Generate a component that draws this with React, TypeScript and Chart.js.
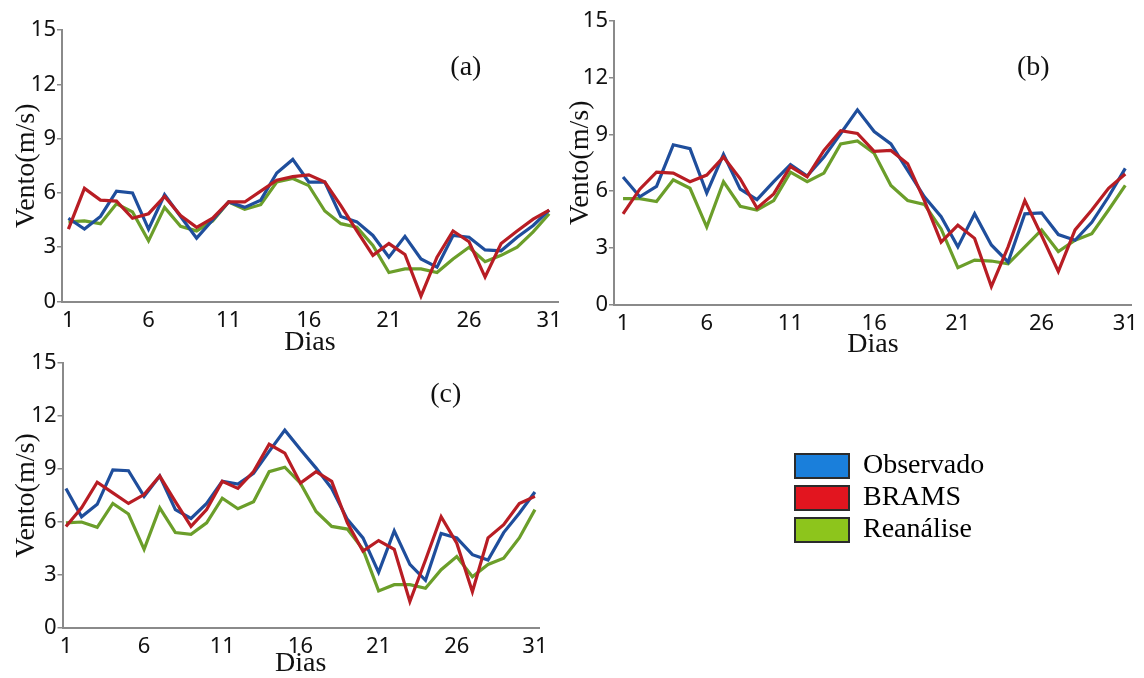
import React, { useRef, useEffect } from 'react';
import { Chart, registerables } from 'chart.js';

Chart.register(...registerables);

// dias do mês (eixo x)
const dias = [1, 2, 3, 4, 5, 6, 7, 8, 9, 10, 11, 12, 13, 14, 15, 16, 17, 18, 19, 20, 21, 22, 23, 24, 25, 26, 27, 28, 29, 30, 31];
const diaTicks = [1, 6, 11, 16, 21, 26, 31];
const ventoTicks = [0, 3, 6, 9, 12, 15];

const seriesNames = ['Observado', 'BRAMS', 'Reanálise'];
const lineColors = ['#1f4e9c', '#b81d24', '#6b9e2a'];
const boxColors = ['#1a7fdb', '#e2151f', '#8dc51c'];

// (a)
const observadoA = [4.6, 4.0, 4.7, 6.1, 6.0, 4.0, 5.9, 4.7, 3.5, 4.5, 5.5, 5.2, 5.6, 7.1, 7.85, 6.6, 6.6, 4.7, 4.4, 3.65, 2.45, 3.6, 2.35, 1.9, 3.65, 3.55, 2.85, 2.8, 3.55, 4.2, 5.05];
const bramsA = [4.0, 6.25, 5.6, 5.55, 4.6, 4.85, 5.8, 4.75, 4.1, 4.6, 5.5, 5.5, 6.1, 6.7, 6.9, 7.0, 6.6, 5.3, 3.9, 2.55, 3.2, 2.6, 0.3, 2.45, 3.9, 3.3, 1.35, 3.2, 3.9, 4.55, 5.05];
const reanaliseA = [4.4, 4.45, 4.3, 5.4, 4.95, 3.35, 5.2, 4.15, 3.9, 4.45, 5.5, 5.1, 5.35, 6.6, 6.8, 6.4, 5.0, 4.3, 4.1, 3.1, 1.6, 1.8, 1.8, 1.6, 2.35, 3.0, 2.2, 2.55, 3.0, 3.85, 4.85];

// (b)
const observadoB = [6.75, 5.7, 6.25, 8.45, 8.25, 5.9, 7.95, 6.1, 5.55, 6.5, 7.4, 6.8, 7.8, 9.05, 10.3, 9.15, 8.5, 7.1, 5.7, 4.65, 3.05, 4.8, 3.15, 2.25, 4.8, 4.85, 3.7, 3.4, 4.35, 5.7, 7.2];
const bramsB = [4.8, 6.1, 7.0, 6.95, 6.5, 6.85, 7.8, 6.65, 5.1, 5.85, 7.3, 6.75, 8.15, 9.2, 9.05, 8.1, 8.15, 7.45, 5.5, 3.3, 4.2, 3.5, 0.95, 3.05, 5.5, 3.65, 1.75, 3.95, 5.0, 6.15, 6.9];
const reanaliseB = [5.6, 5.6, 5.45, 6.6, 6.15, 4.1, 6.5, 5.2, 5.0, 5.5, 7.0, 6.5, 6.95, 8.5, 8.65, 8.0, 6.3, 5.5, 5.3, 4.0, 1.95, 2.35, 2.3, 2.15, 3.05, 3.95, 2.8, 3.4, 3.75, 5.0, 6.3];

// (c)
const observadoC = [7.9, 6.3, 7.0, 8.95, 8.9, 7.45, 8.6, 6.7, 6.2, 7.05, 8.3, 8.15, 8.75, 10.0, 11.2, 10.1, 9.05, 7.9, 6.15, 5.1, 3.15, 5.5, 3.6, 2.7, 5.35, 5.1, 4.15, 3.85, 5.4, 6.5, 7.7];
const bramsC = [5.75, 6.8, 8.25, 7.65, 7.05, 7.55, 8.6, 7.15, 5.75, 6.7, 8.3, 7.9, 8.85, 10.4, 9.9, 8.2, 8.85, 8.3, 5.95, 4.35, 4.95, 4.45, 1.5, 3.85, 6.3, 4.8, 2.05, 5.1, 5.85, 7.05, 7.45];
const reanaliseC = [5.95, 6.0, 5.7, 7.05, 6.45, 4.45, 6.8, 5.4, 5.3, 5.95, 7.35, 6.75, 7.15, 8.85, 9.1, 8.2, 6.6, 5.75, 5.6, 4.45, 2.1, 2.45, 2.45, 2.25, 3.3, 4.05, 2.9, 3.6, 3.95, 5.1, 6.7];

const serif = "'Liberation Serif', 'Times New Roman', serif";
const sans = "'Noto Sans', sans-serif";
const axisGray = '#8a8a8a';

const panelLabel = {
    id: 'panelLabel',
    afterDatasetsDraw(chart: any, _args: any, opts: any) {
        const { ctx } = chart;
        const x = chart.scales.x;
        const y = chart.scales.y;
        ctx.save();
        ctx.font = `28px ${serif}`;
        ctx.fillStyle = '#111';
        ctx.textAlign = 'center';
        ctx.textBaseline = 'middle';
        ctx.fillText(opts.text, x.getPixelForValue(opts.at[0]), y.getPixelForValue(opts.at[1]));
        ctx.restore();
    }
};

interface PanelProps {
    left: number;
    top: number;
    width: number;
    height: number;
    area: { left: number; top: number; right: number; bottom: number };
    xMin: number;
    xMax: number;
    yTitlePad: number;
    xTitlePad: number;
    label: string;
    labelAt: number[];
    series: number[][];
}

const Panel: React.FC<PanelProps> = ({ left, top, width, height, area, xMin, xMax, yTitlePad, xTitlePad, label, labelAt, series }) => {
    const ref = useRef<HTMLCanvasElement>(null);

    useEffect(() => {
        let chart: Chart | undefined;
        if (ref.current) {
            const drawOrder = [1, 0, 2]; // BRAMS por cima, Reanálise por baixo
            chart = new Chart(ref.current, {
                type: 'line',
                data: {
                    datasets: series.map((vals, i) => ({
                        label: seriesNames[i],
                        data: vals.map((v, j) => ({ x: dias[j], y: v })),
                        borderColor: lineColors[i],
                        backgroundColor: lineColors[i],
                        borderWidth: 3.2,
                        pointRadius: 0,
                        tension: 0,
                        fill: false,
                        order: drawOrder[i]
                    }))
                },
                options: {
                    animation: false,
                    responsive: false,
                    events: [],
                    layout: {
                        padding: { left: 0, top: area.top, right: width - area.right, bottom: 0 }
                    },
                    scales: {
                        x: {
                            type: 'linear',
                            min: xMin,
                            max: xMax,
                            afterFit: (s: any) => { s.height = height - area.bottom; },
                            afterBuildTicks: (s: any) => { s.ticks = diaTicks.map(v => ({ value: v })); },
                            ticks: { font: { family: sans, size: 22 }, color: '#111', padding: 6, maxRotation: 0, autoSkip: false },
                            grid: { display: false, drawTicks: false },
                            border: { color: axisGray, width: 2 },
                            title: {
                                display: true,
                                text: 'Dias',
                                color: '#111',
                                font: { family: serif, size: 28, lineHeight: 1 },
                                padding: { top: 0, bottom: xTitlePad }
                            }
                        },
                        y: {
                            min: 0,
                            max: 15,
                            afterFit: (s: any) => { s.width = area.left; },
                            afterBuildTicks: (s: any) => { s.ticks = ventoTicks.map(v => ({ value: v })); },
                            ticks: { font: { family: sans, size: 22 }, color: '#111', padding: 1 },
                            grid: { drawOnChartArea: false, drawTicks: true, tickLength: 5, color: axisGray, lineWidth: 1.5 },
                            border: { color: axisGray, width: 2 },
                            title: {
                                display: true,
                                text: 'Vento(m/s)',
                                color: '#111',
                                font: { family: serif, size: 28, lineHeight: 1 },
                                padding: { top: yTitlePad, bottom: 0 }
                            }
                        }
                    },
                    plugins: {
                        legend: { display: false },
                        tooltip: { enabled: false },
                        panelLabel: { text: label, at: labelAt }
                    } as any
                },
                plugins: [panelLabel]
            });
        }
        return () => {
            if (chart) chart.destroy();
        };
    }, []);

    return <canvas ref={ref} width={width} height={height} style={{ position: 'absolute', left, top }} />;
};

const Legenda: React.FC<{ left: number; top: number; width: number; height: number }> = ({ left, top, width, height }) => {
    const ref = useRef<HTMLCanvasElement>(null);

    useEffect(() => {
        let chart: Chart | undefined;
        if (ref.current) {
            chart = new Chart(ref.current, {
                type: 'line',
                data: { datasets: seriesNames.map(name => ({ label: name, data: [] })) },
                options: {
                    animation: false,
                    responsive: false,
                    events: [],
                    layout: { padding: 0 },
                    scales: { x: { display: false }, y: { display: false } },
                    plugins: {
                        tooltip: { enabled: false },
                        legend: {
                            position: 'left',
                            align: 'start',
                            maxWidth: 400,
                            labels: {
                                boxWidth: 54,
                                boxHeight: 24,
                                padding: 4,
                                color: '#111',
                                font: { family: serif, size: 28 },
                                generateLabels: () => seriesNames.map((text, i) => ({
                                    text,
                                    fillStyle: boxColors[i],
                                    strokeStyle: '#2b2b2b',
                                    lineWidth: 2,
                                    hidden: false,
                                    datasetIndex: i
                                }))
                            }
                        }
                    }
                }
            });
        }
        return () => {
            if (chart) chart.destroy();
        };
    }, []);

    return <canvas ref={ref} width={width} height={height} style={{ position: 'absolute', left, top }} />;
};

export default function App() {
    return (
        <div style={{ position: 'fixed', left: 0, top: 0, width: 1144, height: 678, background: '#fff', overflow: 'hidden' }}>
            <Panel
                left={0} top={0} width={570} height={358}
                area={{ left: 62, top: 30, right: 558, bottom: 301.5 }}
                xMin={0.6} xMax={31.55}
                yTitlePad={13} xTitlePad={1}
                label="(a)" labelAt={[25.8, 12.9]}
                series={[observadoA, bramsA, reanaliseA]}
            />
            <Panel
                left={560} top={0} width={584} height={362}
                area={{ left: 54, top: 21, right: 574, bottom: 304.5 }}
                xMin={0.46} xMax={31.4}
                yTitlePad={7} xTitlePad={3}
                label="(b)" labelAt={[25.5, 12.55]}
                series={[observadoB, bramsB, reanaliseB]}
            />
            <Panel
                left={0} top={340} width={560} height={338}
                area={{ left: 62.5, top: 23, right: 539, bottom: 288 }}
                xMin={0.78} xMax={31.26}
                yTitlePad={13} xTitlePad={0}
                label="(c)" labelAt={[25.3, 13.2]}
                series={[observadoC, bramsC, reanaliseC]}
            />
            <Legenda left={791} top={448} width={240} height={120} />
        </div>
    );
}
